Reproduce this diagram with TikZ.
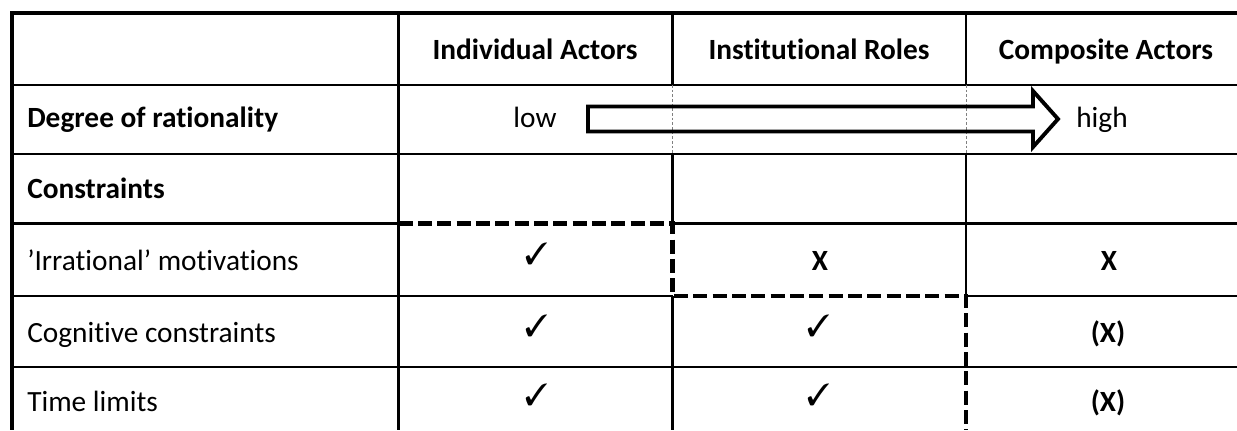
\documentclass[tikz,border=0pt]{standalone}
\usepackage{fontspec}
\setmainfont{Carlito}[Ligatures={NoCommon}]
\usepackage{pifont}
\begin{document}
\begin{tikzpicture}[x=0.75pt,y=-0.75pt]
\tikzset{
  cell/.style={font=\fontsize{22}{26}\selectfont, inner sep=0pt, anchor=base},
  rowlabel/.style={cell, anchor=base west},
  boldcell/.style={cell, font=\fontsize{22}{26}\selectfont\bfseries},
  boldlabel/.style={rowlabel, font=\fontsize{22}{26}\selectfont\bfseries},
  tick/.style={font=\fontsize{23}{25}\selectfont, inner sep=0pt, anchor=center},
  rule/.style={line width=1.7pt, line cap=butt},
  heavy/.style={line width=2.8pt, line cap=butt},
  bound/.style={line width=3.6pt, dash pattern=on 10.5pt off 4pt, line cap=butt},
  faint/.style={line width=0.7pt, gray, dash pattern=on 2pt off 1.5pt},
  bigarrow/.style={line width=2.9pt, line join=miter}
}
\useasboundingbox (0,0) rectangle (1237,430);

% horizontal rules
\draw[heavy] (10,13) -- (1237,13);
\draw[rule] (12,85) -- (1237,85);
\draw[rule] (12,154) -- (1237,154);
\draw[rule] (12,223.5) -- (398,223.5);
\draw[rule] (672.5,223.5) -- (1237,223.5);
\draw[rule] (12,296) -- (672.5,296);
\draw[rule] (966,296) -- (1237,296);
\draw[rule] (12,367) -- (1237,367);

% vertical rules
\draw[heavy] (12,11.7) -- (12,430);
\draw[heavy] (398.5,13) -- (398.5,430);
\draw[rule] (672.5,13) -- (672.5,85);
\draw[rule] (672.5,154) -- (672.5,223.5);
\draw[rule] (672.5,296) -- (672.5,430);
\draw[rule] (966,13) -- (966,85);
\draw[rule] (966,154) -- (966,296);
\draw[faint] (672.5,85) -- (672.5,154);
\draw[faint] (966,85) -- (966,154);

% boundary between rational and constrained cells
\draw[bound] (398.5,223.5) -- (672.5,223.5) -- (672.5,296) -- (966,296) -- (966,430);

% rationality arrow
\draw[bigarrow] (588,106.5) -- (1033,106.5) -- (1033,91) -- (1058,119)
  -- (1033,147) -- (1033,131.5) -- (588,131.5) -- cycle;

% column headers
\node[boldcell] (hInd) at (535,59.5) {Individual Actors};
\node[boldcell] (hInst) at (819,59.5) {Institutional Roles};
\node[boldcell] (hComp) at (1106,59.5) {Composite Actors};

% row labels
\node[boldlabel] (rDeg) at (27,127) {Degree of rationality};
\node[boldlabel] (rCon) at (27,198) {Constraints};
\node[rowlabel] (rIrr) at (27,270) {’Irrational’ motivations};
\node[rowlabel] (rCog) at (27,342) {Cognitive constraints};
\node[rowlabel] (rTime) at (27,411) {Time limits};

% arrow labels
\node[cell] (low) at (535,127) {low};
\node[cell] (high) at (1102,127) {high};

% cell entries
\node[tick] (c41) at (536.5,254) {\ding{51}};
\node[tick] (c51) at (536.5,326) {\ding{51}};
\node[tick] (c61) at (536.5,395) {\ding{51}};
\node[boldcell] (c42) at (820,270) {X};
\node[tick] (c52) at (818.5,326) {\ding{51}};
\node[tick] (c62) at (818.5,395) {\ding{51}};
\node[boldcell] (c43) at (1109,270) {X};
\node[boldcell] (c53) at (1108,342) {(X)};
\node[boldcell] (c63) at (1108,411) {(X)};
\end{tikzpicture}
\end{document}
